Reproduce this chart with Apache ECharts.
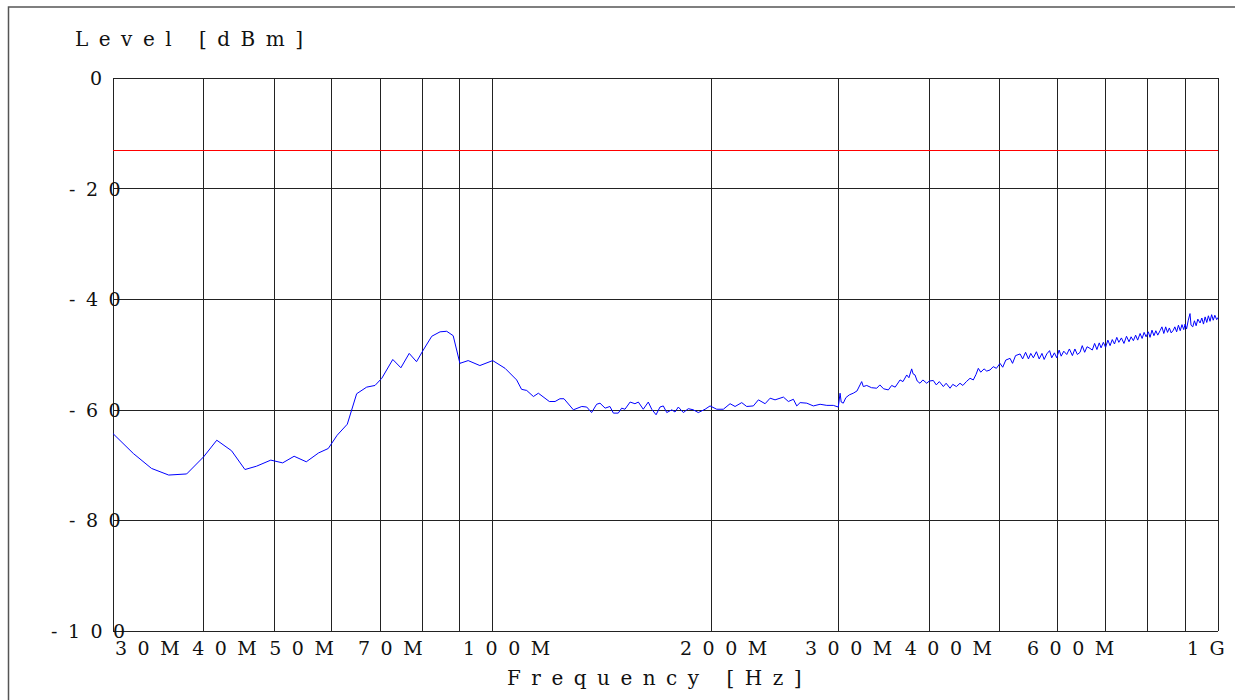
<!DOCTYPE html>
<html><head><meta charset="utf-8">
<script src="https://cdn.jsdelivr.net/npm/echarts@6.0.0/dist/echarts.min.js"></script>
<style>
html,body{margin:0;padding:0;background:#fff;}
#chart{width:1235px;height:700px;}
#chart text{letter-spacing:10.5px;}
</style></head><body><div id="chart"></div><script>
// ---- data ----
const freqMHz = [30.0,32.0,33.9,35.8,37.9,40.0,41.7,43.7,45.6,47.3,49.5,51.4,53.3,55.4,57.6,59.4,61.1,63.1,65.0,67.1,68.9,70.4,72.9,74.8,76.8,78.6,80.3,82.5,84.7,86.5,88.3,90.2,92.6,96.1,100.1,104.1,108.0,109.7,111.5,113.9,115.7,119.8,122.0,123.9,125.5,129.3,132.8,134.9,137.0,139.2,140.7,143.0,145.2,146.8,149.1,150.7,152.3,154.8,157.2,158.9,161.4,164.0,165.8,168.1,170.2,172.0,173.9,176.7,178.5,180.4,183.3,186.2,189.2,192.2,196.4,199.5,203.8,208.1,212.6,216.0,220.6,224.1,228.9,232.6,237.6,241.4,245.2,251.8,255.8,259.9,262.7,265.5,271.2,276.9,282.9,289.0,295.0,299.7,
301.4,302.5,304.5,307,310.4,314.3,318,322.8,324.5,328,333,338.6,342,346,351.3,355,359,364.6,368,372.4,375,378.3,380,382.3,385,388.4,392,396.8,400,405.2,409,413,418.3,422,427.3,431,436,441,445,450,455.3,460,464,467.4,471,476,480,485.1,490,495,
500.7,505,510,516.9,521,526,533.6,538,543,548,552,556.6,562,567,572,576,580.8,586,590,595,599.5,604,608,613,618.8,624,630,635,640,645.5,650,655,660,666.3,671,676,681,686,690,695,700,705,710,715,720,725.3,730,736,742,748,754,759,764.5,770,775,781,786,791,796,801.7,806,811,816,821,826,832,837,842,847,852,857,862,867.9,872,877,882,887,892,897,900.8,905,910,915,918,923,928,933,938,944.7,950,955,960,965,970,975,980,985,990,995.9,1000];
const levelDbm = [-64.3,-67.9,-70.6,-71.8,-71.6,-68.5,-65.5,-67.4,-70.8,-70.2,-69.1,-69.6,-68.4,-69.4,-67.8,-67.0,-64.6,-62.6,-57.1,-55.9,-55.6,-54.3,-50.9,-52.4,-49.8,-51.3,-49.2,-46.7,-45.9,-45.8,-46.6,-51.6,-51.1,-52.0,-51.1,-52.5,-54.6,-56.3,-56.5,-57.6,-57.0,-58.5,-58.5,-58.0,-58.0,-60.0,-59.4,-59.5,-60.5,-59.0,-58.8,-59.7,-59.4,-60.6,-60.6,-59.7,-59.9,-58.6,-58.9,-58.6,-59.9,-58.6,-59.9,-60.9,-59.5,-59.3,-60.5,-60.0,-60.4,-59.5,-60.5,-59.8,-60.0,-60.5,-59.9,-59.3,-59.9,-59.9,-58.9,-59.4,-58.7,-59.4,-59.3,-58.2,-58.9,-57.9,-58.2,-57.7,-58.5,-58.1,-59.3,-58.7,-58.8,-59.3,-59.0,-59.2,-59.2,-59.5,
-57.0,-58.6,-58.8,-57.8,-57.3,-57.0,-56.6,-54.9,-55.8,-55.6,-56.0,-56.1,-55.5,-56.2,-56.4,-55.6,-55.9,-54.6,-54.9,-53.7,-54.2,-52.6,-53.5,-53.7,-54.8,-55.2,-54.6,-55.2,-54.8,-54.7,-55.5,-54.9,-55.8,-55.2,-56.1,-55.4,-55.8,-55.2,-55.6,-54.9,-54.3,-54.6,-53.6,-52.5,-53.2,-52.6,-53.0,-52.8,-52.2,-52.5,
-51.6,-52.3,-51.0,-50.7,-51.6,-50.2,-49.9,-50.8,-49.6,-50.8,-49.8,-50.6,-49.5,-50.8,-49.8,-50.9,-49.9,-49.3,-50.6,-49.7,-50.6,-49.2,-50.3,-49.4,-50.0,-49.0,-50.2,-49.0,-50.0,-49.6,-48.4,-49.6,-48.6,-48.9,-49.2,-48.0,-49.1,-47.9,-48.8,-47.8,-48.7,-47.4,-48.4,-47.3,-48.1,-46.9,-47.8,-47.0,-48.0,-46.7,-47.7,-46.8,-47.5,-46.5,-47.4,-46.2,-47.1,-46.0,-46.8,-45.9,-46.9,-45.6,-46.6,-45.7,-46.5,-45.7,-45.0,-46.2,-45.0,-46.0,-45.2,-46.1,-45.6,-45.0,-45.9,-44.7,-45.7,-44.6,-45.5,-44.5,-45.4,-43.8,-42.6,-44.7,-45.0,-43.9,-44.8,-43.6,-44.3,-43.4,-44.5,-43.2,-44.2,-43.0,-44.0,-42.8,-43.8,-42.9,-43.7,-43.3];
const limitDbm = -13;
const gridFreqs = [30,40,50,60,70,80,90,100,200,300,400,500,600,700,800,900,1000];
const labelFreqs = [30,40,50,70,100,200,300,400,600,1000];
const labelTexts = ['30M','40M','50M','70M','100M','200M','300M','400M','600M','1G'];
const yTickValues = [0,-20,-40,-60,-80,-100];
const xAxisTitle = 'Frequency [Hz]';
const yAxisTitle = 'Level [dBm]';

// ---- layout / style ----
const FONT = '"DejaVu Serif", serif';
const FS = 19;          // tick label font size
const FS_T = 20;        // axis title font size
const LS = 10.5;        // letter spacing (css)
const TXT = '#111';
const GRID_L = 113, GRID_R = 1218;
const mctx = document.createElement('canvas').getContext('2d');
mctx.font = FS + 'px ' + FONT;
const tw = t => mctx.measureText(t).width;
const xPix = f => GRID_L + (GRID_R - GRID_L) * Math.log10(f / 30) / Math.log10(1000 / 30);
// wanted left edge of each x label (px), kept from overlapping the previous one
const xWantStart = [115,189,255,358,463,680,805,902,1027,1187];
const xRich = {};
let prevEnd = -1e9;
labelTexts.forEach((t,i)=>{
  const start = Math.max(xWantStart[i], prevEnd + 2);
  prevEnd = start + tw(t) + t.length * LS;
  const tick = xPix(labelFreqs[i]);
  const s = 2 * (start - tick + tw(t) / 2);
  xRich['x'+i] = {align: 'left', fontFamily: FONT, fontSize: FS, color: TXT,
    padding: s >= 0 ? [0,0,0,s] : [0,-s,0,0]};
});
const yPad = {'0':44, '-20':23, '-40':23, '-60':23, '-80':23, '-100':5};
const yRich = {};
yTickValues.forEach((v,i)=>{
  yRich['y'+i] = {align: 'left', fontFamily: FONT, fontSize: FS, color: TXT, padding: [0,0,0,yPad[String(v)]]};
});

const chart = echarts.init(document.getElementById('chart'), null, {renderer:'svg'});
chart.setOption({
  animation: false,
  backgroundColor: '#fff',
  title: {text: yAxisTitle, left: 75, top: 29, padding: 0,
    textStyle: {fontFamily: FONT, fontSize: FS_T, fontWeight: 'normal', color: TXT}},
  grid: {left: GRID_L, right: 1235 - GRID_R, top: 78, bottom: 69, outerBoundsMode: 'none', containLabel: false},
  graphic: [{type: 'rect', silent: true, shape: {x: 8.5, y: 7, width: 1400, height: 800},
    style: {fill: 'none', stroke: '#555', lineWidth: 1.5}}],
  xAxis: {
    type: 'log', logBase: 10, min: 30, max: 1000,
    name: xAxisTitle, nameLocation: 'middle', nameGap: 37,
    nameTextStyle: {fontFamily: FONT, fontSize: FS_T, color: TXT, padding: [0,12,0,0]},
    axisLine: {show: false},
    axisTick: {show: false, customValues: gridFreqs},
    splitLine: {show: true, lineStyle: {color: '#222', width: 1}},
    axisLabel: {
      customValues: labelFreqs, showMinLabel: true, showMaxLabel: true, hideOverlap: false,
      margin: 7, fontFamily: FONT, fontSize: FS, color: TXT,
      formatter: v => {
        const idx = labelFreqs.findIndex(f => Math.abs(f - v) / f < 1e-4);
        return idx < 0 ? '' : '{x' + idx + '|' + labelTexts[idx] + '}';
      },
      rich: xRich
    }
  },
  yAxis: {
    type: 'value', min: -100, max: 0, interval: 20,
    axisLine: {show: false}, axisTick: {show: false},
    splitLine: {show: true, lineStyle: {color: '#222', width: 1}},
    axisLabel: {
      align: 'left', margin: 67, showMinLabel: true, showMaxLabel: true,
      fontFamily: FONT, fontSize: FS, color: TXT,
      formatter: v => {
        const i = yTickValues.indexOf(Math.round(v));
        return i < 0 ? '' : '{y' + i + '|' + yTickValues[i] + '}';
      },
      rich: yRich
    }
  },
  series: [{
    type: 'line', data: freqMHz.map((f,i)=>[f, levelDbm[i]]),
    showSymbol: false, symbol: 'none', smooth: false,
    lineStyle: {color: '#0000ff', width: 1},
    markLine: {silent: true, symbol: ['none','none'], label: {show: false},
      lineStyle: {color: '#ff0000', width: 1, type: 'solid'},
      emphasis: {disabled: true},
      data: [{yAxis: limitDbm}]}
  }]
});
</script></body></html>
